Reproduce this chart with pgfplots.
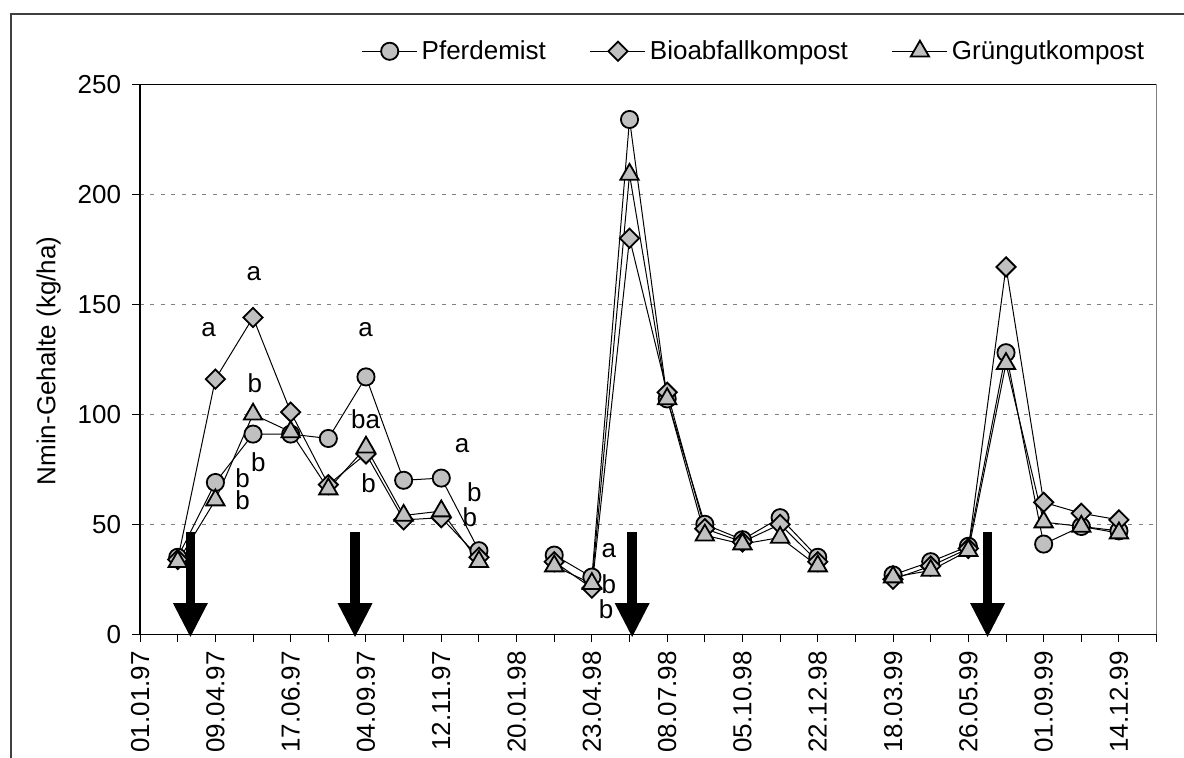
\documentclass[border=0pt]{standalone}
\usepackage{fontspec}
\setmainfont{Liberation Sans}
\usepackage{pgfplots}
\pgfplotsset{compat=1.18}
\definecolor{silver}{RGB}{192,192,192}
\definecolor{framegray}{RGB}{64,64,64}
\newcommand\fs{\fontsize{13}{15.5}\selectfont}

\begin{document}
\begin{tikzpicture}
\useasboundingbox (0,0) rectangle (592pt,379pt);
% outer chart frame (runs past the right and bottom edge)
\draw[framegray, line width=1pt] (5.5pt,-5pt) -- (5.5pt,372pt) -- (600pt,372pt);
\begin{axis}[
    at={(70.05pt,61.85pt)}, anchor=south west,
    scale only axis, width=508.25pt, height=275pt,
    xmin=0, xmax=27, ymin=0, ymax=250,
    clip=false,
    axis lines*=left,
    axis line style={black, line width=0.7pt},
    xtick={0,2,...,26},
    minor xtick={1,3,...,27},
    xticklabels={01.01.97,09.04.97,17.06.97,04.09.97,12.11.97,20.01.98,23.04.98,
                 08.07.98,05.10.98,22.12.98,18.03.99,26.05.99,01.09.99,14.12.99},
    ytick={0,50,...,250},
    tick align=outside,
    major tick length=4pt, minor tick length=4pt,
    tick style={black, line width=0.5pt},
    xticklabel style={rotate=90, anchor=east, font=\fs},
    xticklabel shift=1pt,
    yticklabel style={font=\fs},
    yticklabel shift=2pt,
    /pgf/number format/assume math mode=true,
    ymajorgrids,
    grid style={gray, line width=0.5pt, dash pattern=on 2pt off 3.2pt},
    ylabel={Nmin-Gehalte (kg/ha)},
    ylabel style={at={(axis description cs:-0.09,0.497)}, anchor=center, font=\fs},
    unbounded coords=jump,
    legend columns=3,
    legend cell align=left,
    legend style={at={(axis description cs:0.2117,1.06)}, anchor=west,
                  draw=none, fill=none, font=\fs,
                  /tikz/every even column/.append style={column sep=20pt}},
    legend image code/.code={\draw[mark repeat=2,mark phase=2,#1]
        plot coordinates {(0pt,0pt) (13.75pt,0pt) (27.5pt,0pt)};},
]

\addplot[black, line width=0.5pt, mark=*, mark size=4.3pt,
         mark options={solid, fill=silver, draw=black, line width=0.9pt}]
table {
x y
1 35
2 69
3 91
4 91
5 89
6 117
7 70
8 71
9 38
10 nan
11 36
12 26
13 234
14 107
15 50
16 43
17 53
18 35
19 nan
20 27
21 33
22 40
23 128
24 41
25 49
26 47
};
\addlegendentry{Pferdemist}

\addplot[black, line width=0.5pt, mark=square*, mark size=3.4pt,
         mark options={solid, rotate=45, fill=silver, draw=black, line width=0.9pt}]
table {
x y
1 34
2 116
3 144
4 101
5 68
6 82
7 52
8 53
9 35
10 nan
11 33
12 21
13 180
14 110
15 48
16 42
17 50
18 33
19 nan
20 25
21 31
22 39
23 167
24 60
25 55
26 52
};
\addlegendentry{Bioabfallkompost}

\addplot[black, line width=0.5pt, mark=triangle*, mark size=5.3pt,
         mark options={solid, fill=silver, draw=black, line width=0.9pt}]
table {
x y
1 33
2 61
3 100
4 92
5 66
6 85
7 54
8 56
9 33
10 nan
11 31
12 23
13 209
14 107
15 45
16 41
17 44
18 31
19 nan
20 26
21 29
22 38
23 123
24 51
25 49
26 46
};
\addlegendentry{Grüngutkompost}

% top and right border of the plot area
\draw[black, line width=0.7pt] (rel axis cs:0,1) -- (rel axis cs:1,1);
\draw[gray, line width=0.7pt] (rel axis cs:1,0) -- (rel axis cs:1,1);

% application arrows
\pgfplotsinvokeforeach{1.336,5.71,13.07,22.51}{
  \fill[black] ([xshift=-2.4pt]axis cs:#1,46.7) rectangle ([xshift=2.4pt]axis cs:#1,14.2);
  \fill[black] ([xshift=-8.75pt]axis cs:#1,14.2) -- ([xshift=8.75pt]axis cs:#1,14.2)
               -- (axis cs:#1,-1.2) -- cycle;
}

% significance letters
\begin{scope}[every node/.style={font=\fs, inner sep=0pt}]
\node at (axis cs:1.82,138.6) {a};
\node at (axis cs:3.02,164) {a};
\node at (axis cs:5.99,138.6) {a};
\node at (axis cs:3.05,114) {b};
\node at (axis cs:3.14,78) {b};
\node at (axis cs:2.72,70.8) {b};
\node at (axis cs:2.72,60.8) {b};
\node at (axis cs:5.99,97.7) {ba};
\node at (axis cs:6.07,68.6) {b};
\node at (axis cs:8.55,85.6) {a};
\node at (axis cs:8.88,64.5) {b};
\node at (axis cs:8.76,53.2) {b};
\node at (axis cs:12.45,37.9) {a};
\node at (axis cs:12.45,22.7) {b};
\node at (axis cs:12.38,11.4) {b};
\end{scope}
\end{axis}
\end{tikzpicture}
\end{document}
